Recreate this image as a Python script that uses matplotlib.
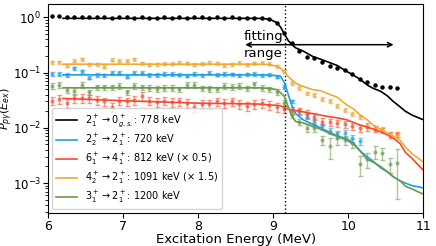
"""
Proton-gamma branching ratios vs excitation energy, with fit curves.
"""
import numpy as np
import matplotlib
matplotlib.use("Agg")
import matplotlib.pyplot as plt

# data points, 6.05 ... 10.65 MeV in 0.1 MeV bins
e_pts = [6.05, 6.15, 6.25, 6.35, 6.45, 6.55, 6.65, 6.75, 6.85, 6.95,
         7.05, 7.15, 7.25, 7.35, 7.45, 7.55, 7.65, 7.75, 7.85, 7.95,
         8.05, 8.15, 8.25, 8.35, 8.45, 8.55, 8.65, 8.75, 8.85, 8.95,
         9.05, 9.15, 9.25, 9.35, 9.45, 9.55, 9.65, 9.75, 9.85, 9.95,
         10.05, 10.15, 10.25, 10.35, 10.45, 10.55, 10.65]

p_778 = [1.06, 1.05, 1.0, 1.01, 1.0, 1.0, 1.01, 1.0, 0.99, 1.0,
         1.0, 0.99, 1.0, 0.98, 0.99, 1.0, 0.99, 1.0, 0.99, 1.0,
         1.01, 0.99, 1.0, 0.99, 1.0, 0.99, 0.99, 0.99, 0.99, 0.95,
         0.8, 0.52, 0.34, 0.25, 0.195, 0.183, 0.155, 0.134, 0.12, 0.113,
         0.095, 0.077, 0.069, 0.06, 0.055, 0.055, 0.053]

p_720 = [0.094, 0.094, 0.091, 0.12, 0.105, 0.081, 0.091, 0.089, 0.098, 0.098,
         0.085, 0.098, 0.098, 0.091, 0.091, 0.094, 0.094, 0.092, 0.088, 0.095,
         0.09, 0.1, 0.092, 0.095, 0.093, 0.09, 0.093, 0.095, 0.09, 0.092,
         0.085, 0.055, 0.03, 0.02, 0.016, 0.013, 0.0106, 0.0087, 0.0076, 0.008,
         0.0065, 0.0057]

p_812 = [0.031, 0.033, 0.028, 0.034, 0.035, 0.034, 0.032, 0.03, 0.024, 0.031,
         0.03, 0.032, 0.037, 0.031, 0.029, 0.031, 0.029, 0.030, 0.028, 0.024,
         0.027, 0.027, 0.030, 0.028, 0.030, 0.027, 0.025, 0.027, 0.028, 0.026,
         0.024, 0.022, 0.021, 0.02, 0.018, 0.016, 0.013, 0.0125, 0.012, 0.0118,
         0.0108, 0.0099, 0.0105, 0.0095, 0.009, 0.0075, 0.0076]

p_1091 = [0.155, 0.155, 0.134, 0.163, 0.175, 0.142, 0.142, 0.127, 0.170, 0.163,
          0.163, 0.175, 0.148, 0.138, 0.142, 0.144, 0.144, 0.15, 0.148, 0.14,
          0.145, 0.15, 0.148, 0.135, 0.142, 0.15, 0.14, 0.148, 0.15, 0.145,
          0.13, 0.105, 0.065, 0.053, 0.042, 0.039, 0.033, 0.031, 0.025, 0.021,
          0.018, 0.0155, 0.0106, 0.0097, 0.0097, 0.0075, 0.0075]

p_1200 = [0.058, 0.06, 0.049, 0.047, 0.06, 0.044, 0.054, 0.054, 0.054, 0.058,
          0.044, 0.058, 0.054, 0.0525, 0.051, 0.0525, 0.0525, 0.05, 0.06, 0.06,
          0.052, 0.051, 0.05, 0.057, 0.056, 0.058, 0.052, 0.061, 0.053, 0.05,
          0.045, 0.028, 0.017, 0.013, 0.01, 0.01, 0.006, 0.0046, 0.0066, 0.006,
          0.0053, 0.0022, 0.0027, 0.0037, 0.0035, 0.0022, 0.0023]

# relative errors (below / above 9.1 MeV)
rel_720 = [0.07] * 31 + [0.08, 0.08, 0.1, 0.1, 0.12, 0.12, 0.12, 0.15, 0.15, 0.15, 0.15]
rel_812 = [0.18] * 31 + [0.15] * 12 + [0.12] * 4
rel_1091 = [0.06] * 31 + [0.08] * 16
rel_1200 = [0.12] * 31 + [0.12, 0.12, 0.12, 0.15, 0.15, 0.2, 0.4, 0.25, 0.2, 0.2,
                          0.4, 0.3, 0.25, 0.25, 0.3, 0.78]

# fit curves
e_fit = [6.2, 7.0, 8.0, 8.8, 8.95, 9.05, 9.1, 9.15, 9.2, 9.25, 9.3, 9.4, 9.53,
         9.63, 9.76, 9.85, 9.98, 10.07, 10.16, 10.25, 10.33, 10.43, 10.52, 10.6,
         10.69, 10.76, 10.85, 11.0]
f_778 = [0.96, 0.96, 0.96, 0.96, 0.93, 0.8, 0.66, 0.5, 0.38, 0.32, 0.28, 0.245, 0.195,
         0.175, 0.15, 0.135, 0.105, 0.09, 0.075, 0.06, 0.052, 0.046, 0.038, 0.03,
         0.024, 0.02, 0.017, 0.014]
f_720 = [0.091, 0.091, 0.091, 0.091, 0.09, 0.088, 0.085, 0.065, 0.04, 0.025, 0.018, 0.014, 0.0115,
         0.01, 0.0082, 0.0072, 0.0063, 0.0053, 0.0038, 0.003, 0.0025, 0.0019, 0.0016, 0.0013,
         0.0011, 0.001, 0.0009, 0.00082]
f_812 = [0.034, 0.031, 0.028, 0.027, 0.026, 0.0255, 0.025, 0.023, 0.022, 0.021, 0.0205, 0.0195, 0.018,
         0.017, 0.0158, 0.0152, 0.014, 0.0125, 0.0112, 0.0104, 0.0095, 0.0085, 0.0075, 0.0065,
         0.0052, 0.0036, 0.0028, 0.0017]
f_1091 = [0.142, 0.142, 0.142, 0.142, 0.14, 0.13, 0.12, 0.1, 0.085, 0.074, 0.064, 0.056, 0.049,
          0.047, 0.04, 0.036, 0.026, 0.022, 0.017, 0.014, 0.0113, 0.0093, 0.0081, 0.007,
          0.006, 0.0045, 0.0034, 0.0024]
f_1200 = [0.053, 0.053, 0.053, 0.053, 0.052, 0.049, 0.043, 0.037, 0.024, 0.016, 0.013, 0.0123, 0.0105,
          0.0095, 0.0078, 0.007, 0.006, 0.005, 0.0038, 0.0027, 0.0024, 0.002, 0.0016, 0.0013,
          0.0011, 0.00088, 0.00078, 0.00063]

colors = {"778": "black", "720": "#1f9ee3", "812": "#f9482c", "1091": "#eeaa38", "1200": "#6b9a4b"}
labels = {
    "778": r"$2_1^+ \rightarrow 0_{g.s.}^+$: 778 keV",
    "720": r"$2_2^+ \rightarrow 2_1^+$: 720 keV",
    "812": r"$6_1^+ \rightarrow 4_1^+$: 812 keV (× 0.5)",
    "1091": r"$4_2^+ \rightarrow 2_1^+$: 1091 keV (× 1.5)",
    "1200": r"$3_1^+ \rightarrow 2_1^+$: 1200 keV",
}

fig, ax = plt.subplots(figsize=(4.36, 2.46), dpi=100)
fig.subplots_adjust(left=0.11, right=0.971, bottom=0.135, top=0.984)

# fits (with legend)
for key, f in [("778", f_778), ("720", f_720), ("812", f_812), ("1091", f_1091), ("1200", f_1200)]:
    ax.plot(e_fit, f, color=colors[key], linewidth=1.2, label=labels[key], zorder=3)

# data
ax.plot(e_pts, p_778, "o", color="black", markersize=2.2, zorder=4)
for key, p, rel in [("720", p_720, rel_720), ("812", p_812, rel_812),
                    ("1091", p_1091, rel_1091), ("1200", p_1200, rel_1200)]:
    p = np.array(p)
    ax.errorbar(e_pts[:len(p)], p, yerr=p * np.array(rel), fmt="o", color=colors[key],
                markersize=2, elinewidth=1, capsize=1.8, capthick=1, alpha=0.55, zorder=2)

ax.axvline(9.16, color="black", linestyle=":", linewidth=1)
ax.annotate("", xy=(8.59, 0.32), xytext=(10.64, 0.32),
            arrowprops=dict(arrowstyle="<->", color="black", linewidth=1.1, mutation_scale=8))
ax.text(8.87, 0.32, "fitting\nrange", ha="center", va="center", fontsize=9.5, linespacing=1.4)

ax.set_yscale("log")
ax.set_xlim(6, 11)
ax.set_ylim(2.9e-4, 1.75)
ax.set_xlabel("Excitation Energy (MeV)", fontsize=9.5, labelpad=0)
ax.set_ylabel(r"$P_{p\gamma}(E_{ex})$", fontsize=8)
ax.yaxis.set_label_coords(-0.088, 0.5)
ax.tick_params(labelsize=9, pad=2)
ax.tick_params(axis="y", labelsize=8.5, pad=1.5)
ax.legend(loc="lower left", fontsize=7, handlelength=2.2, labelspacing=0.3, borderaxespad=0.4)

fig.savefig("out.png", dpi=100)
plt.close()
